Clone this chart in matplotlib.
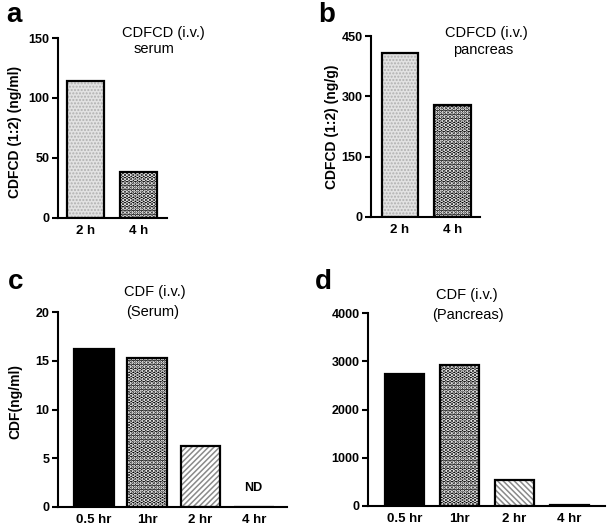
import numpy as np
import matplotlib.pyplot as plt

plt.rcParams['font.family'] = ['Liberation Sans', 'DejaVu Sans']

# === Data ===
a_labels = ['2 h', '4 h']
a_values = [114, 38]
b_labels = ['2 h', '4 h']
b_values = [408, 278]
c_labels = ['0.5 hr', '1hr', '2 hr', '4 hr']
c_values = [16.2, 15.3, 6.3, 0]
d_labels = ['0.5 hr', '1hr', '2 hr', '4 hr']
d_values = [2730, 2920, 530, 20]

# bar styles: (face, hatch, hatch colour, hatch linewidth)
STIPPLE = ('#e2e2e2', '.....', '#b0b0b0', 1.0)
CHECKER = ('black', '....', 'white', 2.2)
SOLID = ('black', '', 'black', 1.0)
DIAG_F = ('white', '//////', '#8a8a8a', 1.1)
DIAG_B = ('white', '\\\\\\\\\\\\', '#8a8a8a', 1.1)

TICK_FS = 9
XTICK_FS = 9.5
YLAB_FS = 10
TITLE_FS = 10.5


def draw_bars(ax, labels, values, styles, width):
    x = np.arange(len(values))
    for xi, v, (fc, hatch, hc, hlw) in zip(x, values, styles):
        # filled / hatched body, then black outline on top
        with plt.rc_context({'hatch.linewidth': hlw}):
            ax.bar(xi, v, width, color=fc, edgecolor=hc, hatch=hatch, linewidth=0)
        ax.bar(xi, v, width, facecolor='none', edgecolor='black', linewidth=1.6)
    ax.set_xticks(x)
    ax.set_xticklabels(labels, fontweight='bold', fontsize=XTICK_FS)


def style_axes(ax):
    for s in ['top', 'right']:
        ax.spines[s].set_visible(False)
    for s in ['left', 'bottom']:
        ax.spines[s].set_linewidth(1.5)
    ax.tick_params(axis='y', width=1.5, length=4, labelsize=TICK_FS, pad=2)
    ax.tick_params(axis='x', length=0, pad=5)
    for t in ax.get_yticklabels():
        t.set_fontweight('bold')


fig = plt.figure(figsize=(6.15, 5.3), dpi=100)

# --- panel a ---
ax_a = fig.add_axes([0.0943, 0.5887, 0.177, 0.3396])
draw_bars(ax_a, a_labels, a_values, [STIPPLE, CHECKER], 0.70)
ax_a.set_xlim(-0.53, 1.54)
ax_a.set_ylim(0, 150)
ax_a.set_yticks([0, 50, 100, 150])
style_axes(ax_a)
ax_a.set_ylabel('CDFCD (1:2) (ng/ml)', fontsize=YLAB_FS, fontweight='bold')
ax_a.yaxis.set_label_coords(-0.33, 0.48)

# --- panel b ---
ax_b = fig.add_axes([0.6033, 0.5906, 0.177, 0.3414])
draw_bars(ax_b, b_labels, b_values, [STIPPLE, CHECKER], 0.69)
ax_b.set_xlim(-0.55, 1.52)
ax_b.set_ylim(0, 450)
ax_b.set_yticks([0, 150, 300, 450])
style_axes(ax_b)
ax_b.set_ylabel('CDFCD (1:2) (ng/g)', fontsize=YLAB_FS, fontweight='bold')
ax_b.yaxis.set_label_coords(-0.29, 0.50)

# --- panel c ---
ax_c = fig.add_axes([0.0943, 0.0434, 0.372, 0.3679])
draw_bars(ax_c, c_labels, c_values, [SOLID, CHECKER, DIAG_F, SOLID], 0.75)
ax_c.set_xlim(-0.675, 3.62)
ax_c.set_ylim(0, 20)
ax_c.set_yticks([0, 5, 10, 15, 20])
style_axes(ax_c)
ax_c.set_ylabel('CDF(ng/ml)', fontsize=YLAB_FS, fontweight='bold')
ax_c.yaxis.set_label_coords(-0.155, 0.54)
ax_c.text(3, 1.3, 'ND', ha='center', va='bottom', fontsize=9, fontweight='bold')

# --- panel d ---
ax_d = fig.add_axes([0.5984, 0.0453, 0.385, 0.3641])
draw_bars(ax_d, d_labels, d_values, [SOLID, CHECKER, DIAG_B, SOLID], 0.71)
ax_d.set_xlim(-0.66, 3.65)
ax_d.set_ylim(0, 4000)
ax_d.set_yticks([0, 1000, 2000, 3000, 4000])
style_axes(ax_d)

# --- titles (figure pixel coords converted to fractions) ---
W, H = 615, 530
titles = [
    (163, 33, 'CDFCD (i.v.)'), (154, 49, 'serum'),
    (486, 33, 'CDFCD (i.v.)'), (483, 50, 'pancreas'),
    (155, 292, 'CDF (i.v.)'), (153, 312, '(Serum)'),
    (467, 295, 'CDF (i.v.)'), (468, 315, '(Pancreas)'),
]
for px, py, s in titles:
    fig.text(px / W, 1 - py / H, s, ha='center', va='center', fontsize=TITLE_FS)

letters = [(14, 15, 'a'), (327, 15, 'b'), (16, 282, 'c'), (323, 282, 'd')]
for px, py, s in letters:
    fig.text(px / W, 1 - py / H, s, ha='center', va='center',
             fontsize=20, fontweight='bold')

fig.savefig('out.png', dpi=100)
